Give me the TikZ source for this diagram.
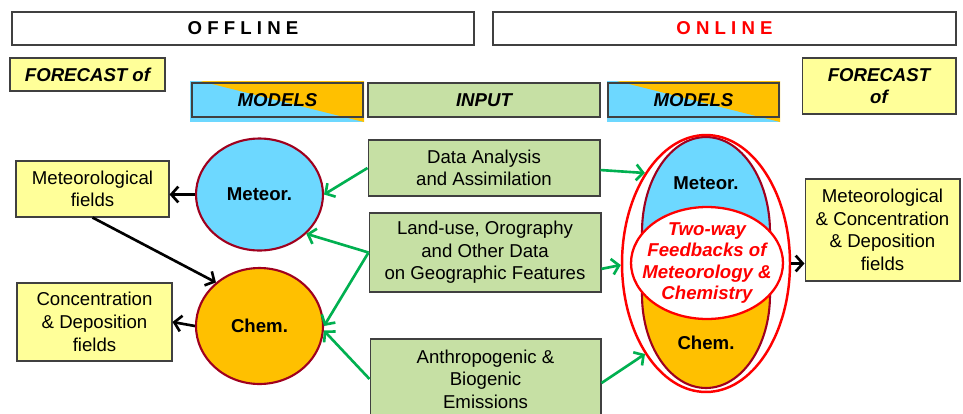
\documentclass[tikz,border=0pt]{standalone}
\usepackage{fontspec}
\setmainfont{Liberation Sans}
\usetikzlibrary{arrows.meta,shapes.geometric}
\definecolor{boxyellow}{HTML}{FFFF99}
\definecolor{boxgreen}{HTML}{C6E0A4}
\definecolor{metblue}{HTML}{6DD8FF}
\definecolor{chemorange}{HTML}{FFC000}
\definecolor{rimred}{HTML}{A0001E}
\definecolor{arrgreen}{HTML}{00B050}
\definecolor{edgegray}{HTML}{404040}
\tikzset{
  base/.style={inner sep=0pt, align=center, font=\fontsize{10.6}{12.9}\selectfont},
  headbox/.style={base, draw=edgegray, line width=0.7pt, fill=white, minimum width=#1, minimum height=0.66cm, font=\fontsize{10.6}{12.9}\selectfont\bfseries},
  fieldbox/.style={base, draw=edgegray, line width=0.6pt, fill=boxyellow},
  inbox/.style={base, draw=edgegray, line width=0.6pt, fill=boxgreen},
  titlebox/.style={base, draw=edgegray, line width=0.7pt, minimum width=3.42cm, minimum height=0.68cm, font=\fontsize{10.6}{12.9}\selectfont\bfseries\itshape},
  modelcirc/.style={base, ellipse, draw=rimred, line width=1.2pt, font=\fontsize{10.6}{12.9}\selectfont\bfseries},
  outarr/.style={line width=1.5pt, -{Straight Barb[length=4pt,width=9pt]}},
  inarr/.style={arrgreen, line width=1.5pt, -{Straight Barb[length=4pt,width=9pt]}}
}
\begin{document}
\begin{tikzpicture}[x=0.02cm, y=-0.02cm]
    \clip (0, 0) rectangle (963, 413);
    \fill[white] (0, 0) rectangle (963, 413);
        \node[headbox=9.24cm] (offline) at (243, 28.5){O F F L I N E};
        \node[headbox=9.26cm, text=red] (online) at (724.5, 28.5){O N L I N E};
        \node[fieldbox, minimum width=3.1cm, minimum height=0.66cm, font=\fontsize{10.6}{12.9}\selectfont\bfseries\itshape] (fcleft) at (87.5, 74.5){FORECAST of};
        \node[fieldbox, minimum width=3.08cm, minimum height=1.12cm, font=\fontsize{10.6}{12.9}\selectfont\bfseries\itshape] (fcright) at (879, 86){FORECAST\\of};
    \fill[metblue] (190, 81) rectangle (364, 122);
    \fill[chemorange] (200, 81) -- (364, 81) -- (364, 122) -- cycle;
        \node[titlebox] (modleft) at (277.5, 100){MODELS};
        \node[titlebox, fill=boxgreen, minimum width=4.64cm] (input) at (484, 100){INPUT};
    \fill[metblue] (607, 81) rectangle (780, 122);
    \fill[chemorange] (617, 81) -- (780, 81) -- (780, 122) -- cycle;
        \node[titlebox] (modright) at (693.5, 100){MODELS};
        \node[fieldbox, minimum width=3.06cm, minimum height=1.12cm] (metfield) at (92.5, 189){Meteorological\\fields};
        \node[fieldbox, minimum width=3.1cm, minimum height=1.56cm] (concfield) at (94.5, 322){Concentration\\\& Deposition\\fields};
        \node[modelcirc, fill=metblue, minimum width=2.54cm, minimum height=2.24cm] (metoff) at (259.5, 194.5){Meteor.};
        \node[modelcirc, fill=chemorange, minimum width=2.54cm, minimum height=2.32cm] (chemoff) at (259.5, 326){Chem.};
        \node[inbox, minimum width=4.64cm, minimum height=1.12cm] (assim) at (484, 168){Data Analysis\\and Assimilation};
        \node[inbox, minimum width=4.64cm, minimum height=1.58cm] (landuse) at (485, 252.5){Land-use, Orography\\and Other Data\\on Geographic Features};
        \node[inbox, minimum width=4.62cm, minimum height=1.6cm] (emis) at (485.5, 379){Anthropogenic \&\\Biogenic\\Emissions};
        \node[fieldbox, minimum width=3.1cm, minimum height=2.04cm] (allfield) at (882.5, 230){Meteorological\\\& Concentration\\\& Deposition\\fields};
    \begin{scope}
        \clip (600, 100) rectangle (800, 263);
        \node[modelcirc, fill=metblue, minimum width=2.56cm, minimum height=3.8cm] (meton) at (706, 232){};
    \end{scope}
    \begin{scope}
        \clip (600, 263) rectangle (800, 400);
        \node[modelcirc, fill=chemorange, minimum width=2.56cm, minimum height=3.72cm] (chemon) at (706, 295){};
    \end{scope}
        \node[base, font=\fontsize{10.6}{12.9}\selectfont\bfseries] (metonlab) at (706, 183){Meteor.};
        \node[base, font=\fontsize{10.6}{12.9}\selectfont\bfseries] (chemonlab) at (706, 343){Chem.};
        \node[ellipse, draw=red, line width=1.3pt, fill=white, inner sep=0pt, minimum width=3.04cm, minimum height=2.24cm] (feedring) at (707, 263){};
        \node[base, text=red, font=\fontsize{10.6}{12.3}\selectfont\bfseries\itshape] (feedback) at (feedring){Two-way\\Feedbacks of\\Meteorology \&\\Chemistry};
        \node[ellipse, draw=red, line width=1.4pt, minimum width=3.36cm, minimum height=5.14cm] (coupled) at (706, 263.5){};
    \draw[outarr] (metoff.west) to (metoff.west -| metfield.east);
    \draw[outarr] (metfield.south) to (chemoff.135);
    \draw[outarr] (chemoff.west) to (concfield.east);
    \draw[outarr] (coupled.east) to (coupled.east -| allfield.west);
    \draw[inarr] (assim.west) to (metoff.east);
    \draw[inarr] (landuse.west) to (metoff.-40);
    \draw[inarr] (landuse.west) to (chemoff.east);
    \draw[inarr] (emis.west) to (chemoff.-4);
    \draw[inarr] (assim.-1.5) to (coupled.124);
    \draw[inarr] (landuse.-8.6) to (coupled.181);
    \draw[inarr] (emis.-2) to (coupled.236);
\end{tikzpicture}
\end{document}
